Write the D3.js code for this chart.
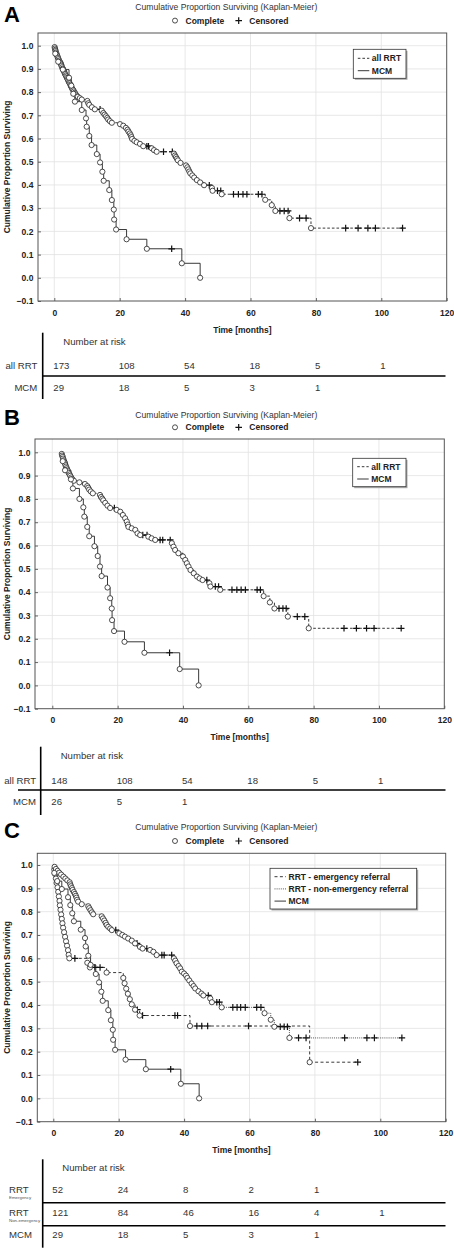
<!DOCTYPE html>
<html><head><meta charset="utf-8">
<script src="https://cdn.jsdelivr.net/npm/d3@7"></script>
<style>
body{margin:0;background:#fff}
svg{display:block}
text{font-family:"Liberation Sans",Arial,sans-serif;fill:#222}
</style>
</head><body>
<svg id="c" width="454" height="1249"></svg>
<script>
// ---------- DATA ----------
const xTicks = [0, 20, 40, 60, 80, 100, 120];
const yTicks = [-0.1, 0.0, 0.1, 0.2, 0.3, 0.4, 0.5, 0.6, 0.7, 0.8, 0.9, 1.0];
const riskTimes = [0, 20, 40, 60, 80, 100];

// Panel A: events [time, survival after event], censored times
const rrtA_start = 0;
const rrtA_events = [[0.1,0.994],[0.2,0.988],[0.3,0.982],[0.4,0.977],[0.5,0.971],[0.7,0.965],[0.8,0.959],[1.0,0.954],[1.1,0.948],[1.3,0.942],[1.5,0.936],[1.7,0.93],[1.9,0.925],[2.1,0.919],[2.2,0.913],[2.4,0.907],[2.6,0.901],[2.8,0.896],[3.0,0.89],[3.1,0.884],[3.3,0.878],[3.5,0.872],[3.7,0.867],[3.9,0.861],[4.1,0.855],[4.3,0.849],[4.5,0.843],[4.7,0.838],[4.9,0.832],[5.1,0.826],[5.3,0.82],[5.5,0.814],[5.8,0.809],[6.0,0.803],[6.3,0.797],[6.5,0.791],[6.8,0.785],[7.2,0.78],[7.8,0.774],[8.4,0.768],[10.1,0.762],[10.4,0.752],[10.7,0.745],[11.5,0.735],[12.4,0.726],[14.5,0.72],[15.0,0.71],[15.4,0.703],[15.8,0.696],[16.2,0.689],[16.5,0.682],[17.0,0.675],[17.6,0.668],[20.1,0.662],[21.1,0.655],[21.9,0.646],[22.4,0.638],[22.7,0.63],[23.1,0.622],[23.4,0.614],[23.6,0.606],[23.8,0.598],[24.5,0.59],[25.2,0.584],[26.2,0.577],[27.2,0.567],[29.8,0.558],[30.5,0.55],[31.3,0.543],[36.6,0.535],[36.9,0.527],[37.2,0.52],[37.5,0.513],[37.8,0.506],[38.6,0.495],[40.3,0.484],[40.7,0.476],[41.0,0.467],[41.3,0.458],[41.6,0.45],[42.2,0.441],[42.8,0.432],[43.6,0.421],[44.6,0.411],[45.8,0.399],[48.2,0.387],[48.4,0.375],[51.2,0.36],[64.5,0.336],[66.5,0.313],[67.6,0.288],[71.9,0.257],[78.5,0.214]];
const rrtA_censored = [14.0,28.3,28.8,33.4,36.1,47.4,49.9,50.9,54.8,56.3,57.7,58.9,62.4,63.5,69.0,70.3,71.5,75.0,77.0,89.1,92.9,95.9,98.2,106.5];
const mcmA_start = 0;
const mcmA_events = [[0.3,0.966],[1.2,0.931],[2.6,0.897],[4.5,0.862],[5.2,0.828],[5.8,0.793],[6.3,0.759],[8.4,0.723],[9.7,0.687],[9.9,0.651],[10.7,0.611],[11.4,0.572],[13.0,0.533],[14.0,0.497],[14.7,0.457],[15.1,0.418],[16.8,0.378],[17.6,0.335],[18.2,0.294],[18.3,0.251],[18.9,0.208],[22.1,0.166],[28.3,0.125],[39.0,0.0625],[44.6,0.0]];
const mcmA_censored = [35.9];
const riskA_rrt = [173, 108, 54, 18, 5, 1];
const riskA_mcm = [29, 18, 5, 3, 1];

// Panel B
const rrtB_start = 2.8;
const rrtB_events = [[2.9,0.993],[3.0,0.986],[3.2,0.98],[3.3,0.973],[3.5,0.966],[3.7,0.959],[3.9,0.953],[4.0,0.946],[4.2,0.939],[4.4,0.932],[4.6,0.926],[4.8,0.919],[5.0,0.912],[5.3,0.905],[5.5,0.899],[5.8,0.892],[6.1,0.885],[6.6,0.878],[8.3,0.871],[10.0,0.864],[10.7,0.855],[11.0,0.848],[11.3,0.84],[11.8,0.832],[12.4,0.824],[14.6,0.817],[14.9,0.808],[15.3,0.801],[15.6,0.794],[16.2,0.783],[16.9,0.771],[17.7,0.761],[19.7,0.753],[20.8,0.745],[21.6,0.731],[22.3,0.717],[22.8,0.703],[23.1,0.69],[23.3,0.68],[24.3,0.674],[25.4,0.667],[26.1,0.652],[26.9,0.645],[29.4,0.638],[30.4,0.631],[31.5,0.624],[36.6,0.61],[37.1,0.595],[37.6,0.581],[38.6,0.567],[40.0,0.553],[40.7,0.538],[41.2,0.524],[41.7,0.51],[42.3,0.495],[43.3,0.481],[44.3,0.467],[45.1,0.459],[46.0,0.452],[48.1,0.438],[48.4,0.424],[51.4,0.41],[64.7,0.383],[66.6,0.356],[68.0,0.33],[72.1,0.295],[78.5,0.245]];
const rrtB_censored = [19.0,27.7,29.0,33.0,33.8,36.1,47.3,49.9,50.9,55.0,56.5,57.8,59.1,62.7,63.7,69.4,70.6,71.6,75.0,77.3,89.3,93.1,96.2,98.5,106.8];
const mcmB_start = 2.8;
const mcmB_events = [[3.2,0.962],[3.9,0.923],[5.7,0.884],[6.3,0.845],[8.3,0.80],[9.5,0.764],[9.8,0.724],[10.7,0.68],[11.3,0.64],[12.9,0.597],[13.9,0.555],[14.6,0.51],[15.1,0.469],[16.9,0.42],[17.7,0.374],[18.2,0.33],[18.3,0.28],[18.9,0.233],[22.1,0.187],[28.2,0.14],[39.0,0.07],[44.8,0.0]];
const mcmB_censored = [35.9];
const riskB_rrt = [148, 108, 54, 18, 5, 1];
const riskB_mcm = [26, 5, 1];

// Panel C
const emC_start = 0;
const emC_events = [[0.3,0.981],[0.5,0.962],[0.8,0.942],[1.0,0.923],[1.3,0.904],[1.5,0.885],[1.7,0.865],[1.9,0.846],[2.0,0.827],[2.2,0.808],[2.4,0.788],[2.6,0.769],[2.8,0.75],[3.0,0.731],[3.3,0.712],[3.6,0.692],[3.9,0.673],[4.2,0.654],[4.5,0.635],[4.7,0.615],[4.9,0.6],[10.4,0.581],[11.2,0.561],[16.3,0.539],[21.4,0.516],[21.8,0.493],[22.3,0.47],[22.8,0.448],[23.4,0.425],[24.0,0.403],[25.0,0.38],[26.4,0.355],[41.8,0.31],[78.4,0.155]];
const emC_censored = [6.6,12.7,14.3,25.7,27.3,37.2,38.0,43.9,45.4,47.2,59.7,93.1];
const nonC_start = 0;
const nonC_events = [[0.4,0.992],[0.8,0.983],[1.3,0.975],[1.8,0.967],[2.4,0.959],[3.1,0.95],[3.7,0.942],[4.3,0.934],[5.0,0.926],[5.2,0.917],[5.4,0.909],[5.7,0.901],[5.9,0.893],[6.3,0.884],[6.6,0.876],[6.9,0.868],[7.1,0.86],[7.3,0.851],[7.6,0.843],[8.7,0.832],[10.7,0.823],[11.0,0.815],[11.4,0.806],[11.8,0.797],[12.2,0.789],[14.8,0.78],[15.2,0.771],[15.6,0.762],[16.0,0.752],[16.3,0.743],[16.8,0.735],[17.4,0.728],[17.9,0.721],[20.2,0.707],[21.1,0.7],[21.9,0.693],[22.9,0.685],[24.0,0.676],[25.0,0.664],[26.5,0.649],[27.3,0.642],[29.6,0.636],[30.6,0.628],[31.6,0.614],[36.9,0.6],[37.3,0.59],[37.7,0.579],[38.3,0.567],[38.8,0.557],[39.3,0.543],[40.0,0.535],[40.6,0.526],[41.0,0.516],[41.6,0.505],[42.3,0.492],[42.9,0.481],[43.4,0.471],[44.4,0.459],[45.3,0.449],[45.9,0.441],[48.0,0.428],[48.5,0.412],[51.5,0.39],[64.6,0.365],[66.5,0.337],[67.6,0.307],[72.2,0.259]];
const nonC_censored = [19.1,25.6,28.6,33.2,33.9,36.2,47.4,50.0,50.8,54.9,56.2,57.3,58.7,62.2,63.5,69.4,70.6,71.6,75.0,77.3,89.1,95.9,98.2,106.6];
const mcmC_start = 0;
const mcmC_events = [[0.3,0.966],[1.2,0.931],[2.6,0.897],[4.5,0.862],[5.2,0.828],[5.8,0.793],[6.3,0.759],[8.4,0.723],[9.7,0.687],[9.9,0.651],[10.7,0.611],[11.4,0.572],[13.0,0.533],[14.0,0.497],[14.7,0.457],[15.1,0.418],[16.8,0.378],[17.6,0.335],[18.2,0.294],[18.3,0.251],[18.9,0.208],[22.1,0.166],[28.3,0.125],[39.0,0.0625],[44.6,0.0]];
const mcmC_censored = [35.9];
const riskC_em = [52, 24, 8, 2, 1];
const riskC_non = [121, 84, 46, 16, 4, 1];
const riskC_mcm = [29, 18, 5, 3, 1];

// ---------- DRAWING ----------
const svg = d3.select("#c");
const DASH = "2.6,2";
const DOT = "1,1.1";

function levelAt(events, t) {
  let s = 1;
  for (const e of events) if (e[0] <= t) s = e[1];
  return s;
}

function drawPanel(p) {
  const g = svg.append("g");
  const x = d3.scaleLinear().domain([0, 120]).range([p.x0, p.R]);
  const y = d3.scaleLinear().domain([-0.1, 1.0]).range([p.B, p.y1]);

  // letter, title, marker legend
  g.append("text").attr("x", 4).attr("y", p.letterY).style("font-size", "22px").style("font-weight", "bold").style("fill", "#000").text(p.letter);
  g.append("text").attr("x", 226.3).attr("y", p.titleY).attr("text-anchor", "middle").style("font-size", "8.6px").style("fill", "#333").text("Cumulative Proportion Surviving (Kaplan-Meier)");
  g.append("circle").attr("cx", 175).attr("cy", p.legY - 3).attr("r", 2.5).attr("fill", "#fff").attr("stroke", "#222").attr("stroke-width", 0.8);
  g.append("text").attr("x", 185.5).attr("y", p.legY).style("font-size", "8.5px").style("font-weight", "bold").text("Complete");
  plus(g, 238.7, p.legY - 3);
  g.append("text").attr("x", 249.3).attr("y", p.legY).style("font-size", "8.5px").style("font-weight", "bold").text("Censored");

  // grid
  g.append("g").selectAll("line").data(xTicks.filter(d => d < 120)).join("line")
    .attr("x1", d => x(d)).attr("x2", d => x(d)).attr("y1", p.T).attr("y2", p.B)
    .attr("stroke", "#e2e2e2").attr("stroke-width", 0.8);
  g.append("g").selectAll("line").data(yTicks.filter(d => d > -0.1)).join("line")
    .attr("x1", p.L).attr("x2", p.R).attr("y1", d => y(d)).attr("y2", d => y(d))
    .attr("stroke", "#e2e2e2").attr("stroke-width", 0.8);

  // axes
  const ax = g.append("g").attr("transform", `translate(0,${p.B})`)
    .call(d3.axisBottom(x).tickValues(xTicks).tickSize(-3).tickPadding(8.6).tickFormat(d3.format("d")));
  const ay = g.append("g").attr("transform", `translate(${p.L},0)`)
    .call(d3.axisLeft(y).tickValues(yTicks).tickSize(-3).tickPadding(4.6).tickFormat(d3.format(".1f")));
  [ax, ay].forEach(a => {
    a.select(".domain").remove();
    a.selectAll("line").attr("stroke", "#666");
    a.selectAll("text").style("font-size", "8.5px").style("font-weight", "bold").style("font-family", "'Liberation Sans',Arial,sans-serif").attr("fill", "#222");
  });

  g.append("rect").attr("x", p.L).attr("y", p.T).attr("width", p.R - p.L).attr("height", p.B - p.T)
    .attr("fill", "none").attr("stroke", "#555").attr("stroke-width", 1);

  g.append("text").attr("x", (p.L + p.R) / 2).attr("y", p.xLabY).attr("text-anchor", "middle")
    .style("font-size", "8.5px").style("font-weight", "bold").text("Time [months]");
  g.append("text").attr("transform", `translate(9.5,${(p.T + p.B) / 2}) rotate(-90)`).attr("text-anchor", "middle")
    .style("font-size", "8.5px").style("font-weight", "bold").text("Cumulative Proportion Surviving");

  // curves
  const line = d3.line().x(d => x(d[0])).y(d => y(d[1])).curve(d3.curveStepAfter);
  const marks = [];
  p.curves.forEach(c => {
    const last = c.events[c.events.length - 1];
    const end = Math.max(last[0], c.cens.length ? c.cens[c.cens.length - 1] : 0);
    const pts = [[c.start, 1], ...c.events, [end, last[1]]];
    g.append("path").attr("d", line(pts)).attr("fill", "none")
      .attr("stroke", c.color || "#222").attr("stroke-width", c.w || 0.9)
      .attr("stroke-dasharray", c.dash || null);
    marks.push(c);
  });
  marks.forEach(c => {
    c.cens.forEach(t => plus(g, x(t), y(levelAt(c.events, t))));
    g.append("g").selectAll("circle").data(c.events).join("circle")
      .attr("cx", d => x(d[0])).attr("cy", d => y(d[1])).attr("r", 2.6)
      .attr("fill", "#fff").attr("stroke", "#222").attr("stroke-width", 0.8);
  });

  // curve legend box
  const lb = p.legend;
  g.append("rect").attr("x", lb.x + 1.5).attr("y", lb.y + 1.5).attr("width", lb.w).attr("height", lb.h).attr("fill", "#aaa");
  g.append("rect").attr("x", lb.x).attr("y", lb.y).attr("width", lb.w).attr("height", lb.h).attr("fill", "#fff").attr("stroke", "#333").attr("stroke-width", 0.8);
  lb.items.forEach((it, i) => {
    const yy = lb.y0 + i * lb.dy;
    g.append("line").attr("x1", lb.x + 4.5).attr("x2", lb.x + 16).attr("y1", yy).attr("y2", yy)
      .attr("stroke", it.color || "#222").attr("stroke-width", 0.9).attr("stroke-dasharray", it.dash || null);
    g.append("text").attr("x", lb.x + 18.5).attr("y", yy + 3).style("font-size", lb.fs).style("font-weight", "bold").text(it.label);
  });

  // number at risk table
  const tb = p.table;
  g.append("line").attr("x1", tb.vx).attr("x2", tb.vx).attr("y1", tb.vy1).attr("y2", tb.vy2).attr("stroke", "#000").attr("stroke-width", 1.6);
  tb.hlines.forEach(h => g.append("line").attr("x1", h.x1).attr("x2", 445.5).attr("y1", h.y).attr("y2", h.y).attr("stroke", "#000").attr("stroke-width", 1.6));
  g.append("text").attr("x", tb.narX).attr("y", tb.narY).style("font-size", "9.6px").style("fill", "#333").text("Number at risk");
  tb.rows.forEach(r => {
    const t = g.append("text").attr("x", tb.labX).attr("y", r.y).attr("text-anchor", tb.labAnchor)
      .style("font-size", "9.6px").style("fill", "#333").text(r.label);
    if (r.sub) g.append("text").attr("x", tb.labX).attr("y", r.y + 6.5).style("font-size", "4.4px").style("fill", "#555").text(r.sub);
    g.append("g").selectAll("text").data(r.values).join("text")
      .attr("x", (d, i) => x(riskTimes[i]) - 1).attr("y", r.y)
      .style("font-size", "9.6px").style("fill", "#333").text(d => d);
  });
}

function plus(g, cx, cy) {
  const a = 3.3;
  g.append("path").attr("d", `M${cx - a},${cy}H${cx + a}M${cx},${cy - a}V${cy + a}`)
    .attr("stroke", "#111").attr("stroke-width", 1.2).attr("fill", "none");
}

drawPanel({
  letter: "A", letterY: 22, titleY: 9.6, legY: 23.6,
  L: 38, R: 446.7, T: 33, B: 301, x0: 54.3, y1: 45.7, xLabY: 333,
  curves: [
    {start: rrtA_start, events: rrtA_events, cens: rrtA_censored, dash: DASH},
    {start: mcmA_start, events: mcmA_events, cens: mcmA_censored}
  ],
  legend: {x: 353.3, y: 49.3, w: 52.7, h: 29, y0: 58.3, dy: 12.4, fs: "8.5px",
    items: [{label: "all RRT", dash: DASH}, {label: "MCM"}]},
  table: {vx: 42.7, vy1: 332.7, vy2: 399, narX: 63.3, narY: 345, labX: 37.3, labAnchor: "end",
    hlines: [{y: 376, x1: 42.7}],
    rows: [{label: "all RRT", y: 369, values: riskA_rrt}, {label: "MCM", y: 391, values: riskA_mcm}]}
});

drawPanel({
  letter: "B", letterY: 425, titleY: 418, legY: 430.3,
  L: 35, R: 444.3, T: 439, B: 708.7, x0: 52.3, y1: 452.3, xLabY: 740.3,
  curves: [
    {start: rrtB_start, events: rrtB_events, cens: rrtB_censored, dash: DASH},
    {start: mcmB_start, events: mcmB_events, cens: mcmB_censored}
  ],
  legend: {x: 352.7, y: 458.3, w: 53.3, h: 28.4, y0: 466.7, dy: 12.3, fs: "8.5px",
    items: [{label: "all RRT", dash: DASH}, {label: "MCM"}]},
  table: {vx: 40.7, vy1: 746.7, vy2: 815, narX: 60.7, narY: 758.5, labX: 36, labAnchor: "end",
    hlines: [{y: 790, x1: 18}],
    rows: [{label: "all RRT", y: 783.5, values: riskB_rrt}, {label: "MCM", y: 804.5, values: riskB_mcm}]}
});

drawPanel({
  letter: "C", letterY: 838, titleY: 830.3, legY: 844,
  L: 37.3, R: 445.7, T: 853.3, B: 1121.7, x0: 53.3, y1: 865, xLabY: 1153,
  curves: [
    {start: emC_start, events: emC_events, cens: emC_censored, dash: "3,2.4"},
    {start: nonC_start, events: nonC_events, cens: nonC_censored, dash: DOT, color: "#444"},
    {start: mcmC_start, events: mcmC_events, cens: mcmC_censored}
  ],
  legend: {x: 270, y: 868.3, w: 146.7, h: 40.7, y0: 876.7, dy: 12.2, fs: "8.5px",
    items: [{label: "RRT - emergency referral", dash: "3,2.4"}, {label: "RRT - non-emergency referral", dash: DOT, color: "#444"}, {label: "MCM"}]},
  table: {vx: 42.7, vy1: 1159.3, vy2: 1247.7, narX: 62.3, narY: 1171, labX: 9, labAnchor: "start",
    hlines: [{y: 1202.7, x1: 42}, {y: 1225.7, x1: 42}],
    rows: [{label: "RRT", sub: "Emergency", y: 1192.5, values: riskC_em},
           {label: "RRT", sub: "Non-emergency", y: 1215.5, values: riskC_non},
           {label: "MCM", y: 1238.3, values: riskC_mcm}]}
});
</script>
</body></html>
